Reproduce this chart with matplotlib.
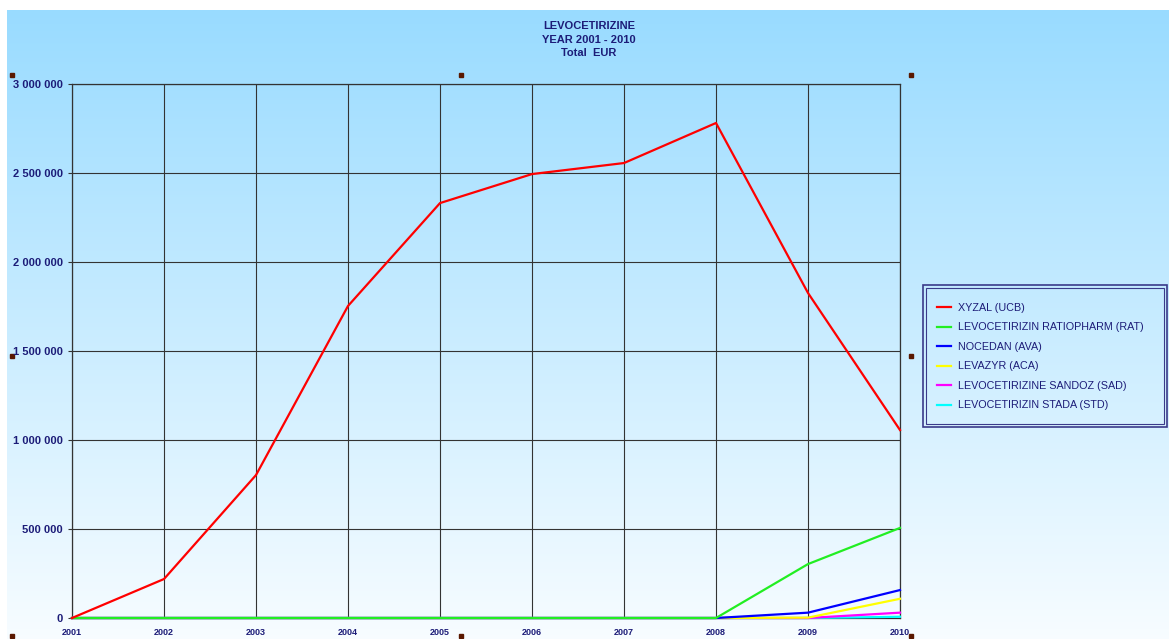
import numpy as np
import matplotlib
matplotlib.use("Agg")
import matplotlib.pyplot as plt
from matplotlib.patches import Rectangle
from matplotlib.ticker import FuncFormatter

# years and sales (EUR)
years = [2001, 2002, 2003, 2004, 2005, 2006, 2007, 2008, 2009, 2010]
xyzal = [0, 219000, 803000, 1753000, 2331000, 2494000, 2556000, 2781000, 1826000, 1056000]
ratiopharm = [0, 0, 0, 0, 0, 0, 0, 0, 303000, 506000]
nocedan = [0, 0, 0, 0, 0, 0, 0, 0, 30000, 157000]
levazyr = [0, 0, 0, 0, 0, 0, 0, 0, 2000, 108000]
sandoz = [0, 0, 0, 0, 0, 0, 0, 0, 0, 30000]
stada = [0, 0, 0, 0, 0, 0, 0, 0, 0, 7000]

labels = ["XYZAL (UCB)", "LEVOCETIRIZIN RATIOPHARM (RAT)", "NOCEDAN (AVA)",
          "LEVAZYR (ACA)", "LEVOCETIRIZINE SANDOZ (SAD)", "LEVOCETIRIZIN STADA (STD)"]
colors = ["#ff0000", "#22ee22", "#0000ff", "#ffff00", "#ff00ff", "#00ffff"]
title_lines = ["LEVOCETIRIZINE", "YEAR 2001 - 2010", "Total  EUR"]

W, H = 1169, 639
navy = "#1c1c78"
plt.rcParams['font.family'] = ['Liberation Sans', 'DejaVu Sans']

fig = plt.figure(figsize=(W / 100, H / 100), dpi=100)
fig.patch.set_facecolor("white")

# background gradient, in pixel coordinates
bg = fig.add_axes([0, 0, 1, 1])
bg.set_xlim(0, W)
bg.set_ylim(H, 0)
bg.axis("off")
top = np.array([0.60, 0.86, 1.0])
bot = np.array([0.97, 0.99, 1.0])
t = np.linspace(0, 1, 256)[:, None]
grad = (top[None, :] * (1 - t) + bot[None, :] * t)[:, None, :]
bg.imshow(grad, extent=(7, W, H, 10), aspect="auto", interpolation="bilinear")

# selection handles (screenshot)
hx = [12, 461, 911, 12, 911, 12, 461, 911]
hy = [75, 75, 75, 356, 356, 636, 636, 636]
bg.plot(hx, hy, "s", color="#5a1800", markersize=3.5, linestyle="none")

# legend double frame
bg.add_patch(Rectangle((923, 285), 244, 142, fill=False, edgecolor="#3a3a8a", lw=1.2))
bg.add_patch(Rectangle((926, 288), 238, 136, fill=False, edgecolor="#3a3a8a", lw=0.8))

# main axes
ax = fig.add_axes([72 / W, 1 - 618 / H, (900 - 72) / W, (618 - 84) / H])
ax.patch.set_alpha(0)

series = [xyzal, ratiopharm, nocedan, levazyr, sandoz, stada]
lines = {}
for i in [5, 4, 3, 2, 1, 0]:
    ln, = ax.plot(years, series[i], color=colors[i], lw=1.6, label=labels[i],
                  zorder=3 + (5 - i), clip_on=False)
    lines[i] = ln

ax.set_xlim(2001, 2010)
ax.set_ylim(0, 3000000)
ax.set_xticks(years)
ax.set_yticks(range(0, 3000001, 500000))
ax.yaxis.set_major_formatter(FuncFormatter(lambda v, p: "{:,}".format(int(v)).replace(",", " ")))
ax.grid(True, color="#333333", lw=0.8)
ax.set_axisbelow(True)
for s in ax.spines.values():
    s.set_color("#333333")
    s.set_linewidth(0.9)
ax.tick_params(axis="y", length=3, width=0.8, color="#333333", labelsize=8, labelcolor=navy, pad=3.6)
ax.tick_params(axis="x", length=0, labelsize=6.5, labelcolor=navy, pad=7)
for lab in ax.get_xticklabels() + ax.get_yticklabels():
    lab.set_fontweight("bold")

for k, (txt, py) in enumerate(zip(title_lines, [26, 40, 53])):
    fig.text(589 / W, 1 - py / H, txt, ha="center", va="center",
             fontsize=8, fontweight="bold", color=navy)

fig.legend([lines[i] for i in range(6)], labels, loc="upper left",
           bbox_to_anchor=(937 / W, 1 - 303 / H), bbox_transform=fig.transFigure,
           frameon=False, fontsize=7.75, labelcolor=navy, borderpad=0, borderaxespad=0,
           handlelength=1.3, handletextpad=0.65, labelspacing=0.88)

fig.savefig("out.png", dpi=100)
